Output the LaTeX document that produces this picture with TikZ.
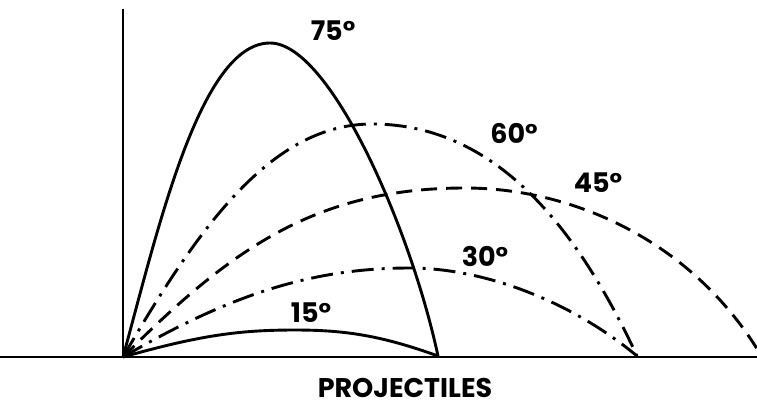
\documentclass[tikz,border=0pt]{standalone}
\usepackage{fontspec}
\setmainfont{Poppins}
\tikzset{
  traj/.style={line width=2.9pt},
  solidtraj/.style={traj},
  dashtraj/.style={traj, dash pattern=on 16pt off 9pt},
  dotdashtraj/.style={traj, dash pattern=on 22pt off 8pt on 3pt off 8pt},
  axis/.style={line width=2.9pt},
  lbl/.style={font=\fontsize{27}{30}\selectfont\bfseries, inner sep=0pt},
}
\begin{document}
\begin{tikzpicture}[x=1pt,y=-1pt]
\useasboundingbox (0,0) rectangle (757,413);
\clip (0,0) rectangle (757,413);
\coordinate (O) at (123,357);
\coordinate (top) at (123,9);
\coordinate (L) at (0,357);
\coordinate (R) at (757,357);
\draw[axis] (top) -- (O);
\draw[axis] (L) -- (R);
% 75 deg
\coordinate (p75) at (270,43);
\coordinate (e75) at (438,356);
\draw[solidtraj] (O) .. controls (157.7,230.4) and (200,43) .. (p75)
  .. controls (330,43) and (410.7,228.6) .. (e75);
% 60 deg
\coordinate (p60) at (372,124);
\coordinate (e60) at (637,356);
\draw[dotdashtraj] (O) .. controls (199,226) and (272,124) .. (p60)
  .. controls (502,124) and (582.4,239) .. (e60);
% 45 deg
\coordinate (p45) at (465,188);
\coordinate (e45) at (762,357);
\draw[dashtraj] (O) .. controls (230,250) and (315,188) .. (p45)
  .. controls (575,188) and (695,243) .. (e45);
% 30 deg
\coordinate (p30) at (410,268);
\coordinate (e30) at (637,356);
\draw[dotdashtraj] (O) .. controls (228,296) and (310,268) .. (p30)
  .. controls (480,268) and (567.7,298.4) .. (e30);
% 15 deg
\coordinate (p15) at (295,330);
\coordinate (e15) at (438,356);
\draw[solidtraj] (O) .. controls (201,335) and (240,330) .. (p15)
  .. controls (345,330) and (381.6,335.6) .. (e15);
\node[lbl] (l75) at (333,31) {75°};
\node[lbl] (l60) at (514,133) {60°};
\node[lbl] (l45) at (598,183) {45°};
\node[lbl] (l30) at (485,256) {30°};
\node[lbl] (l15) at (311,313) {15°};
\node[lbl] (title) at (405,388) {PROJECTILES};
\end{tikzpicture}
\end{document}
